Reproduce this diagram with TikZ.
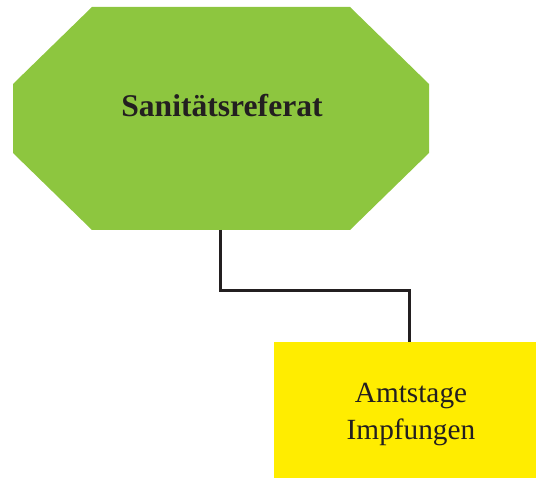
\documentclass[tikz,border=0pt]{standalone}
\usepackage{fontspec}
\setmainfont{Liberation Serif}
\definecolor{octgreen}{HTML}{8DC63F}
\definecolor{boxyellow}{HTML}{FFED00}
\definecolor{linegray}{HTML}{231F20}
\begin{document}
\begin{tikzpicture}[x=1pt,y=-1pt,
  octfill/.style={fill=octgreen,draw=none},
  boxstyle/.style={fill=boxyellow,draw=none,minimum width=262pt,minimum height=136pt,inner sep=0pt},
  boxtext/.style={inner sep=0pt,align=center,text=linegray,font=\fontsize{29.3}{37}\selectfont},
  titlestyle/.style={inner sep=0pt,text=linegray,font=\fontsize{31.6}{38}\selectfont\bfseries},
  conn/.style={draw=linegray,line width=3pt}]
\useasboundingbox (0,0) rectangle (536,478);
\fill[octfill] (13,84) -- (92,7) -- (350,7) -- (429,84) -- (429,153) -- (350,230) -- (92,230) -- (13,153) -- cycle;
\node[titlestyle,anchor=base] (sanit) at (222,117) {Sanitätsreferat};
\coordinate (octbottom) at (220,230);
\node[boxstyle] (amt) at (405,410) {};
\node[boxtext,anchor=base] (amttext) at (411,440) {Amtstage\\Impfungen};
\coordinate (amttop) at (409,342);
\draw[conn] (octbottom) -- ++(0,61) -| (amttop);
\end{tikzpicture}
\end{document}
